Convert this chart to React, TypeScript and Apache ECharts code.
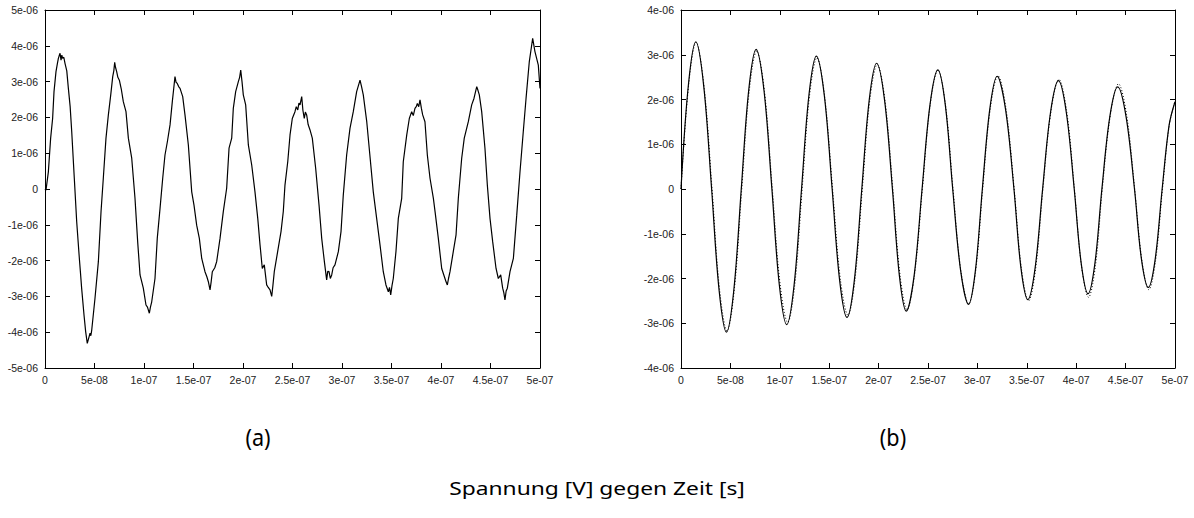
import React, { useEffect, useRef } from "react";
import * as echarts from "echarts";

// Time in ns, voltage in µV (axis labels convert to s and V)
const measuredA: [number, number][] = [
  [0, 0], [1, -0.03], [3.4, 0.48], [5.7, 1.42], [7.7, 1.97], [9.1, 2.72], [11.1, 3.28], [12.5, 3.5], [13.5, 3.65], [14.3, 3.72], [15.2, 3.79], [16.2, 3.6], [17.0, 3.74], [17.8, 3.65], [19, 3.68], [20.2, 3.51], [22, 3.3], [23.6, 2.81], [25.4, 2.3], [27, 1.6], [29.6, 0.3], [32, -0.91], [34.7, -1.94], [36, -2.4], [37, -2.77], [39.4, -3.52], [41.1, -3.99], [42.7, -4.31], [43.8, -4.2], [45.5, -4.03], [46.3, -4.1], [47.2, -3.94], [50.5, -3.05], [53.9, -2.03], [56.6, -0.63], [58.9, 0.3], [61.6, 1.42], [64, 2.07], [66.4, 2.63], [68.4, 3.14], [69.5, 3.3], [70.4, 3.54], [71.2, 3.4], [72.4, 3.28], [73.6, 3.12], [75.1, 3.04], [77, 2.8], [79.1, 2.44], [81.8, 2.16], [84.2, 1.42], [87.6, 0.86], [90.9, -0.26], [93.6, -1.47], [96, -2.4], [99.3, -2.77], [102, -3.24], [103.5, -3.3], [105.4, -3.47], [106.5, -3.3], [107.8, -3.15], [111.1, -2.5], [113.4, -1.38], [116.2, -0.54], [118.9, 0.3], [121.2, 0.95], [123.6, 1.32], [126.3, 1.79], [128.6, 2.44], [130, 2.8], [131.3, 3.14], [132.4, 2.98], [133.6, 2.95], [135, 2.86], [136.4, 2.81], [139.1, 2.58], [141.4, 2.07], [144.8, 1.23], [148.2, -0.08], [150.5, -0.45], [153.2, -1.01], [155.9, -1.38], [158.3, -1.94], [161.6, -2.31], [163.5, -2.45], [165, -2.59], [166.7, -2.82], [167.8, -2.6], [169, -2.31], [171.5, -2.2], [173.4, -2.03], [176.8, -1.38], [180.1, -0.63], [183.5, 0.02], [185.9, 1.14], [188.6, 1.42], [190.2, 2.25], [192.6, 2.72], [195.3, 3.0], [196.6, 3.12], [197.7, 3.32], [199, 3.0], [200.3, 2.63], [202.7, 2.35], [205.4, 1.23], [208.8, 0.67], [212.1, -0.08], [214.9, -0.82], [217.2, -1.56], [219.5, -2.22], [221.5, -2.12], [223.9, -2.68], [225.5, -2.75], [227.3, -2.82], [229, -3.0], [230.2, -2.7], [231.6, -2.31], [235, -1.75], [238.4, -1.19], [240.7, -0.63], [242.4, 0.11], [245.2, 0.76], [247.5, 1.51], [249.8, 1.97], [252.5, 2.16], [253.8, 2.3], [255.3, 2.21], [256.5, 2.4], [257.6, 2.35], [259.3, 2.58], [260.5, 2.2], [261.9, 1.97], [263, 2.15], [264.3, 2.07], [265.8, 1.8], [267.7, 1.65], [270, 1.42], [273.4, 0.58], [276.8, -0.45], [279.5, -1.38], [282.2, -2.03], [284.5, -2.54], [285.6, -2.3], [286.9, -2.31], [288.2, -2.5], [289.6, -2.4], [291, -2.2], [292.9, -2.12], [296.3, -1.75], [299, -1.19], [301.3, -0.17], [304.7, 0.95], [308.1, 1.7], [311.4, 2.16], [314.8, 2.72], [318.2, 3.04], [319.8, 2.85], [321.5, 2.63], [325, 1.88], [328.3, 0.9], [331.6, -0.08], [335, -0.82], [338.4, -1.56], [341.7, -2.31], [344.4, -2.68], [346.8, -2.87], [348, -2.75], [349.2, -2.96], [350.5, -2.7], [351.8, -2.5], [354.5, -1.75], [356.9, -0.82], [360.3, -0.26], [361.9, 0.76], [365.4, 1.51], [368, 1.97], [370.4, 2.16], [372, 2.05], [373.7, 2.25], [375, 2.3], [376.1, 2.39], [377.5, 2.3], [378.8, 2.49], [380.2, 2.25], [381.5, 2.07], [383.8, 1.88], [386.2, 0.95], [388.9, 0.3], [392.3, -0.26], [394, -0.63], [397.3, -1.38], [400.7, -2.22], [404, -2.5], [405.2, -2.6], [406.4, -2.68], [407.6, -2.5], [409.1, -2.31], [412.4, -1.75], [415.2, -1.28], [417.5, -0.26], [420.9, 0.86], [423.5, 1.42], [427.6, 1.88], [431, 2.35], [433.3, 2.53], [436.1, 2.86], [437.4, 2.75], [438.7, 2.63], [441.1, 2.16], [444.4, 1.14], [446.8, 0.11], [449.5, -0.82], [452.2, -1.47], [455.6, -2.22], [457.9, -2.5], [460.3, -2.4], [462.3, -2.77], [463.5, -2.9], [464.6, -3.1], [465.8, -2.85], [467, -2.77], [469.7, -2.31], [473.1, -1.94], [476.5, -0.73], [479.8, 0.48], [483.1, 1.6], [485.9, 2.53], [489.2, 3.56], [492.6, 4.21], [494.9, 3.84], [498.3, 3.46], [500, 2.81],
];

const simulatedB: [number, number][] = [
  [0, 0], [7.5, 2.33], [15, 3.29], [23, 2.3], [31, 0], [38.5, -2.25], [46, -3.2], [53.5, -2.25], [61, 0], [68.5, 2.2], [76, 3.12], [84, 2.2], [92, 0], [99.5, -2.14], [107, -3.03], [114.5, -2.14], [122, 0], [129.5, 2.1], [137, 2.97], [145, 2.1], [153, 0], [160.5, -2.03], [168, -2.87], [175.5, -2.03], [183, 0], [190.5, 1.99], [198, 2.81], [206, 1.99], [214, 0], [221, -1.93], [228, -2.73], [236, -1.93], [244, 0], [252, 1.88], [260, 2.66], [267.5, 1.88], [275, 0], [283, -1.82], [291, -2.58], [298, -1.82], [305, 0], [312.5, 1.78], [320, 2.52], [328.5, 1.78], [337, 0], [344, -1.75], [351, -2.47], [358.5, -1.75], [366, 0], [374, 1.71], [382, 2.42], [390, 1.71], [398, 0], [405, -1.65], [412, -2.34], [419, -1.65], [426, 0], [434, 1.61], [442, 2.28], [450.5, 1.61], [459, 0], [466, -1.56], [473, -2.2], [480, -1.56], [487, 0], [494, 1.42], [500, 1.95],
];

const fitB: [number, number][] = [
  [0, 0], [7.7, 2.32], [15.3, 3.28], [23.3, 2.3], [31.4, 0], [39, -2.24], [46.6, -3.17], [54, -2.24], [61.5, 0], [69, 2.18], [76.6, 3.08], [84.5, 2.18], [92.4, 0], [100.2, -2.11], [108, -2.98], [115.3, -2.11], [122.6, 0], [130, 2.07], [137.6, 2.93], [145.4, 2.07], [153.4, 0], [161.2, -2.0], [169, -2.82], [176.2, -2.0], [183.5, 0], [191, 1.97], [198.6, 2.78], [206.5, 1.97], [214.4, 0], [221.6, -1.91], [228.8, -2.7], [236.4, -1.91], [244.3, 0], [252.2, 1.88], [260.1, 2.66], [267.7, 1.88], [275.3, 0], [283.2, -1.82], [291.2, -2.57], [298.3, -1.82], [305.3, 0], [313, 1.79], [320.8, 2.53], [329, 1.79], [337.2, 0], [344.5, -1.77], [351.8, -2.5], [359, -1.77], [366.3, 0], [374.4, 1.73], [382.5, 2.45], [390.4, 1.73], [398.2, 0], [405.3, -1.71], [412.5, -2.42], [419.5, -1.71], [426.4, 0], [434.6, 1.66], [442.8, 2.35], [451, 1.66], [459.2, 0], [466.4, -1.59], [473.5, -2.25], [480.4, -1.59], [487.3, 0], [494.2, 1.43], [500, 1.96],
];

const timeTicksNs = { min: 0, max: 500, step: 50 };
const voltTicksA = { min: -5, max: 5, step: 1 };
const voltTicksB = { min: -4, max: 4, step: 1 };

const panelLabels = ["(a)", "(b)"];
const caption = "Spannung [V] gegen Zeit [s]";

function sci(v: number, scale: number): string {
  if (Math.abs(v) < 1e-9) return "0";
  const x = v * scale;
  let e = Math.floor(Math.log10(Math.abs(x)) + 1e-9);
  let m = x / Math.pow(10, e);
  m = Math.round(m * 1e4) / 1e4;
  if (Math.abs(m) >= 10) {
    m /= 10;
    e++;
  }
  const es = (e < 0 ? "-" : "+") + String(Math.abs(e)).padStart(2, "0");
  return `${m}e${es}`;
}

export default function App() {
  const ref = useRef<HTMLDivElement>(null);
  useEffect(() => {
    if (!ref.current) return;
    const chart = echarts.init(ref.current, undefined, { renderer: "svg" });
    const font = "Liberation Sans, Arial, sans-serif";
    const labelStyle = { fontFamily: font, fontSize: 10.5, color: "#222" };
    const lineCol = "#000";
    const capFont = "'Noto Sans', 'DejaVu Sans', sans-serif";
    const mkX = (grid: number, pos: "bottom" | "top") => ({
      type: "value" as const,
      gridIndex: grid,
      position: pos,
      min: timeTicksNs.min,
      max: timeTicksNs.max,
      interval: timeTicksNs.step,
      axisLine: { show: true, onZero: false, lineStyle: { color: lineCol, width: 1 } },
      axisTick: { show: true, inside: true, length: 5, lineStyle: { color: lineCol } },
      axisLabel: pos === "bottom"
        ? { show: true, margin: 6, formatter: (v: number) => sci(v, 1e-9), ...labelStyle }
        : { show: false },
      splitLine: { show: false },
    });
    const mkY = (grid: number, pos: "left" | "right", t: { min: number; max: number; step: number }) => ({
      type: "value" as const,
      gridIndex: grid,
      position: pos,
      min: t.min,
      max: t.max,
      interval: t.step,
      axisLine: { show: true, onZero: false, lineStyle: { color: lineCol, width: 1 } },
      axisTick: { show: true, inside: true, length: 5, lineStyle: { color: lineCol } },
      axisLabel: pos === "left"
        ? { show: true, margin: 7, formatter: (v: number) => sci(v, 1e-6), ...labelStyle }
        : { show: false },
      splitLine: { show: false },
    });
    chart.setOption({
      animation: false,
      backgroundColor: "#fff",
      grid: [
        { left: 45, top: 10, width: 495, height: 358, containLabel: false },
        { left: 681, top: 10, width: 494, height: 358, containLabel: false },
      ],
      xAxis: [mkX(0, "bottom"), mkX(0, "top"), mkX(1, "bottom"), mkX(1, "top")],
      yAxis: [
        mkY(0, "left", voltTicksA),
        mkY(0, "right", voltTicksA),
        mkY(1, "left", voltTicksB),
        mkY(1, "right", voltTicksB),
      ],
      series: [
        {
          type: "line",
          xAxisIndex: 0,
          yAxisIndex: 0,
          data: measuredA,
          showSymbol: false,
          symbol: "none",
          lineStyle: { color: "#000", width: 1.2 },
        },
        {
          type: "line",
          xAxisIndex: 2,
          yAxisIndex: 2,
          data: fitB,
          smooth: 0.35,
          symbol: "none",
          lineStyle: { color: "#000", width: 1, type: [1, 2] },
        },
        {
          type: "line",
          xAxisIndex: 2,
          yAxisIndex: 2,
          data: simulatedB,
          smooth: 0.35,
          symbol: "none",
          lineStyle: { color: "#000", width: 1.2 },
        },
      ],
      graphic: [
        {
          type: "text",
          x: 258,
          y: 437,
          scaleX: 0.9,
          style: {
            text: panelLabels[0],
            font: `24px ${capFont}`,
            fill: "#000",
            align: "center",
            verticalAlign: "middle",
          },
        },
        {
          type: "text",
          x: 893,
          y: 437,
          scaleX: 0.9,
          style: {
            text: panelLabels[1],
            font: `24px ${capFont}`,
            fill: "#000",
            align: "center",
            verticalAlign: "middle",
          },
        },
        {
          type: "text",
          x: 597,
          y: 488,
          scaleX: 1.2,
          style: {
            text: caption,
            font: `19px ${capFont}`,
            fill: "#000",
            align: "center",
            verticalAlign: "middle",
          },
        },
      ],
    });
    return () => chart.dispose();
  }, []);
  return (
    <div
      ref={ref}
      style={{ position: "absolute", left: 0, top: 0, width: 1194, height: 518 }}
    />
  );
}
